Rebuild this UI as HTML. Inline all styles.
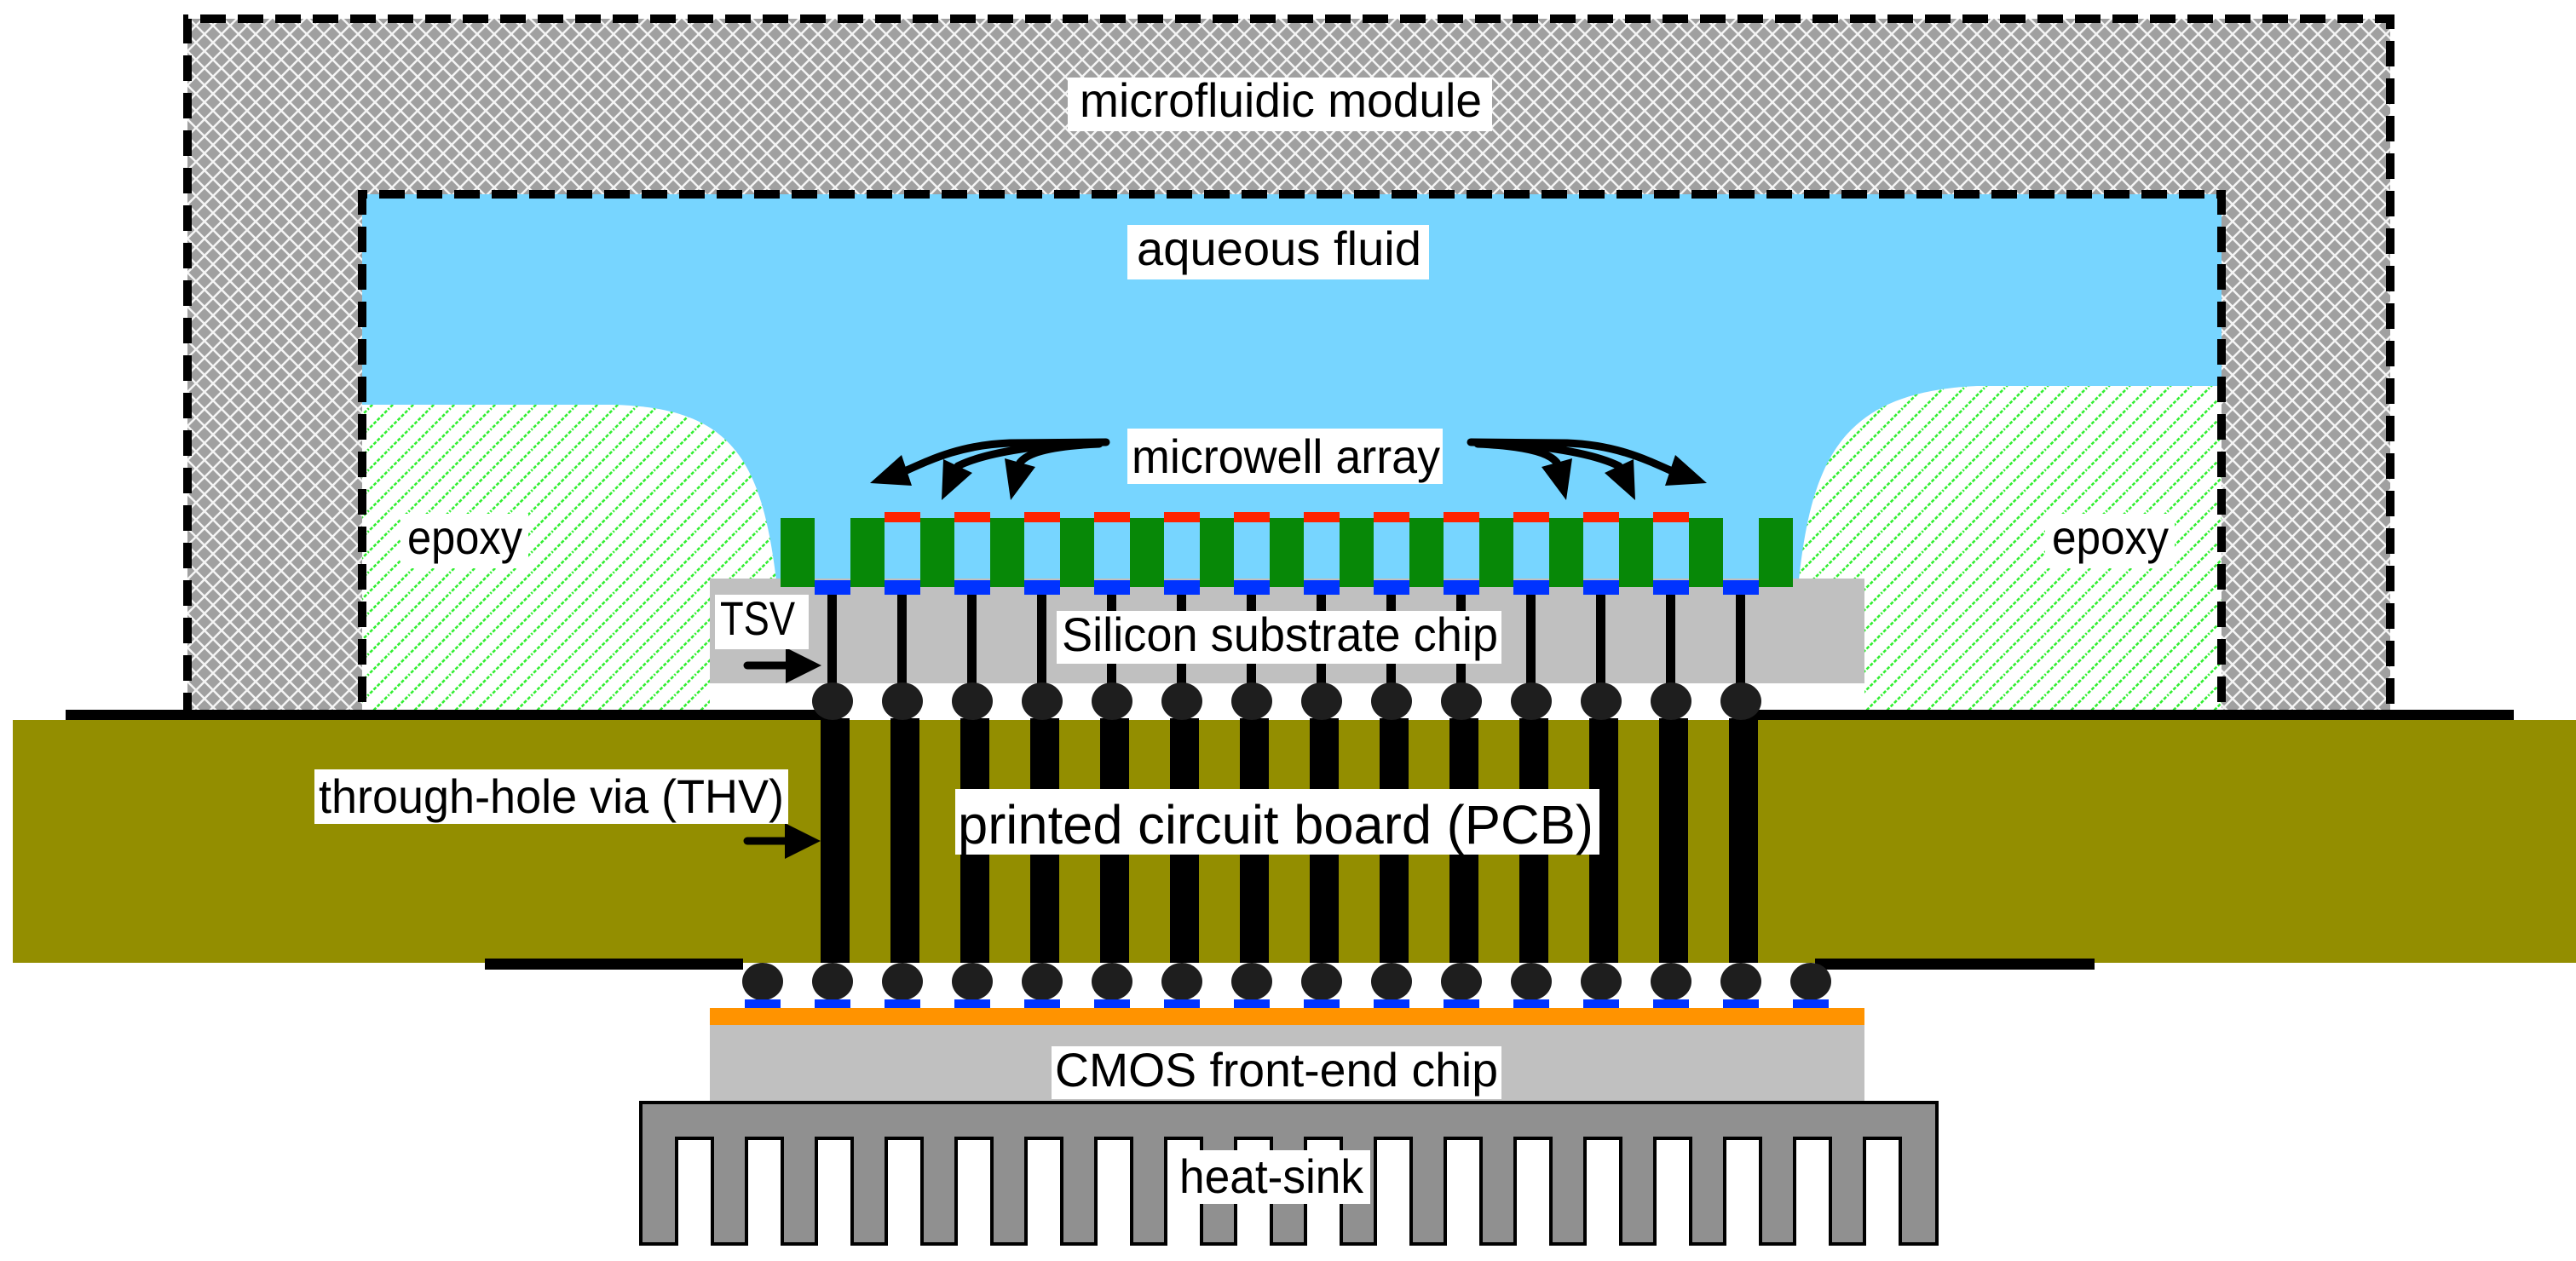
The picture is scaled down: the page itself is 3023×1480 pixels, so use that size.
<!DOCTYPE html>
<html><head><meta charset="utf-8"><style>
html,body{margin:0;padding:0;background:#fff;}
svg{display:block;}
text{font-family:"Liberation Sans",sans-serif;fill:#000;}
</style></head><body>
<svg width="3023" height="1480" viewBox="0 0 3023 1480" xmlns="http://www.w3.org/2000/svg">
<defs>
<pattern id="cross" width="20" height="20" patternUnits="userSpaceOnUse">
<rect width="20" height="20" fill="#a0a0a0"/>
<path d="M0,0 L20,20 M20,0 L0,20" stroke="#f4f4f4" stroke-width="2.5"/>
</pattern>
<pattern id="hatch" width="24" height="24" patternUnits="userSpaceOnUse">
<rect width="24" height="24" fill="#fff"/>
<path d="M-2,26 L26,-2 M-14,14 L14,-14 M10,38 L38,10" stroke="#33ee33" stroke-width="2.6" stroke-dasharray="4,2"/>
</pattern>
</defs>

<!-- fluid -->
<rect x="425" y="228" width="2182" height="480" fill="#77d5ff"/>
<!-- epoxy left -->
<path d="M425,475 L718,475 C860,478 895,540 912,690 L912,843 L425,843 Z" fill="url(#hatch)"/>
<!-- epoxy right -->
<path d="M2607,453 L2320,453 C2160,460 2125,540 2110,690 L2110,843 L2607,843 Z" fill="url(#hatch)"/>
<!-- microfluidic module -->
<path d="M220,22 L2805,22 L2805,843 L2607,843 L2607,228 L425,228 L425,843 L220,843 Z" fill="url(#cross)"/>
<path d="M220,843 L220,22 L2805,22 L2805,843 L2607,843 L2607,228 L425,228 L425,843 Z" fill="none" stroke="#000" stroke-width="10" stroke-dasharray="30,14"/>

<!-- silicon chip -->
<rect x="833" y="679" width="1355" height="123" fill="#c0c0c0"/>
<rect x="833" y="802" width="1355" height="41" fill="#fff"/>
<!-- green walls -->
<g fill="#078807">
<rect x="916" y="608" width="40" height="81"/><rect x="998" y="608" width="40" height="81"/><rect x="1080" y="608" width="40" height="81"/><rect x="1162" y="608" width="40" height="81"/><rect x="1244" y="608" width="40" height="81"/><rect x="1326" y="608" width="40" height="81"/><rect x="1408" y="608" width="40" height="81"/><rect x="1490" y="608" width="40" height="81"/><rect x="1572" y="608" width="40" height="81"/><rect x="1654" y="608" width="40" height="81"/><rect x="1736" y="608" width="40" height="81"/><rect x="1818" y="608" width="40" height="81"/><rect x="1900" y="608" width="40" height="81"/><rect x="1982" y="608" width="40" height="81"/><rect x="2064" y="608" width="40" height="81"/>
</g>
<g fill="#ff2200">
<rect x="1038" y="601" width="42" height="12"/><rect x="1120" y="601" width="42" height="12"/><rect x="1202" y="601" width="42" height="12"/><rect x="1284" y="601" width="42" height="12"/><rect x="1366" y="601" width="42" height="12"/><rect x="1448" y="601" width="42" height="12"/><rect x="1530" y="601" width="42" height="12"/><rect x="1612" y="601" width="42" height="12"/><rect x="1694" y="601" width="42" height="12"/><rect x="1776" y="601" width="42" height="12"/><rect x="1858" y="601" width="42" height="12"/><rect x="1940" y="601" width="42" height="12"/>
</g>
<g fill="#0033ff">
<rect x="956" y="681" width="42" height="17"/><rect x="1038" y="681" width="42" height="17"/><rect x="1120" y="681" width="42" height="17"/><rect x="1202" y="681" width="42" height="17"/><rect x="1284" y="681" width="42" height="17"/><rect x="1366" y="681" width="42" height="17"/><rect x="1448" y="681" width="42" height="17"/><rect x="1530" y="681" width="42" height="17"/><rect x="1612" y="681" width="42" height="17"/><rect x="1694" y="681" width="42" height="17"/><rect x="1776" y="681" width="42" height="17"/><rect x="1858" y="681" width="42" height="17"/><rect x="1940" y="681" width="42" height="17"/><rect x="2022" y="681" width="42" height="17"/>
</g>
<g fill="#000">
<rect x="971" y="698" width="11" height="110"/><rect x="1053" y="698" width="11" height="110"/><rect x="1135" y="698" width="11" height="110"/><rect x="1217" y="698" width="11" height="110"/><rect x="1299" y="698" width="11" height="110"/><rect x="1381" y="698" width="11" height="110"/><rect x="1463" y="698" width="11" height="110"/><rect x="1545" y="698" width="11" height="110"/><rect x="1627" y="698" width="11" height="110"/><rect x="1709" y="698" width="11" height="110"/><rect x="1791" y="698" width="11" height="110"/><rect x="1873" y="698" width="11" height="110"/><rect x="1955" y="698" width="11" height="110"/><rect x="2037" y="698" width="11" height="110"/>
</g>

<!-- PCB -->
<rect x="15" y="845" width="3008" height="285" fill="#938e00"/>
<rect x="77" y="833" width="903" height="12" fill="#000"/>
<rect x="2043" y="833" width="907" height="12" fill="#000"/>
<rect x="569" y="1125" width="303" height="13" fill="#000"/>
<rect x="2130" y="1125" width="328" height="13" fill="#000"/>
<g fill="#000">
<rect x="963" y="843" width="34" height="287"/><rect x="1045" y="843" width="34" height="287"/><rect x="1127" y="843" width="34" height="287"/><rect x="1209" y="843" width="34" height="287"/><rect x="1291" y="843" width="34" height="287"/><rect x="1373" y="843" width="34" height="287"/><rect x="1455" y="843" width="34" height="287"/><rect x="1537" y="843" width="34" height="287"/><rect x="1619" y="843" width="34" height="287"/><rect x="1701" y="843" width="34" height="287"/><rect x="1783" y="843" width="34" height="287"/><rect x="1865" y="843" width="34" height="287"/><rect x="1947" y="843" width="34" height="287"/><rect x="2029" y="843" width="34" height="287"/>
</g>
<g fill="#1e1e1e">
<ellipse cx="977" cy="823" rx="24" ry="22"/><ellipse cx="1059" cy="823" rx="24" ry="22"/><ellipse cx="1141" cy="823" rx="24" ry="22"/><ellipse cx="1223" cy="823" rx="24" ry="22"/><ellipse cx="1305" cy="823" rx="24" ry="22"/><ellipse cx="1387" cy="823" rx="24" ry="22"/><ellipse cx="1469" cy="823" rx="24" ry="22"/><ellipse cx="1551" cy="823" rx="24" ry="22"/><ellipse cx="1633" cy="823" rx="24" ry="22"/><ellipse cx="1715" cy="823" rx="24" ry="22"/><ellipse cx="1797" cy="823" rx="24" ry="22"/><ellipse cx="1879" cy="823" rx="24" ry="22"/><ellipse cx="1961" cy="823" rx="24" ry="22"/><ellipse cx="2043" cy="823" rx="24" ry="22"/>
</g>
<g fill="#1e1e1e">
<ellipse cx="895" cy="1152" rx="24" ry="22"/><ellipse cx="977" cy="1152" rx="24" ry="22"/><ellipse cx="1059" cy="1152" rx="24" ry="22"/><ellipse cx="1141" cy="1152" rx="24" ry="22"/><ellipse cx="1223" cy="1152" rx="24" ry="22"/><ellipse cx="1305" cy="1152" rx="24" ry="22"/><ellipse cx="1387" cy="1152" rx="24" ry="22"/><ellipse cx="1469" cy="1152" rx="24" ry="22"/><ellipse cx="1551" cy="1152" rx="24" ry="22"/><ellipse cx="1633" cy="1152" rx="24" ry="22"/><ellipse cx="1715" cy="1152" rx="24" ry="22"/><ellipse cx="1797" cy="1152" rx="24" ry="22"/><ellipse cx="1879" cy="1152" rx="24" ry="22"/><ellipse cx="1961" cy="1152" rx="24" ry="22"/><ellipse cx="2043" cy="1152" rx="24" ry="22"/><ellipse cx="2125" cy="1152" rx="24" ry="22"/>
</g>
<g fill="#0033ff">
<rect x="874" y="1173" width="42" height="10"/><rect x="956" y="1173" width="42" height="10"/><rect x="1038" y="1173" width="42" height="10"/><rect x="1120" y="1173" width="42" height="10"/><rect x="1202" y="1173" width="42" height="10"/><rect x="1284" y="1173" width="42" height="10"/><rect x="1366" y="1173" width="42" height="10"/><rect x="1448" y="1173" width="42" height="10"/><rect x="1530" y="1173" width="42" height="10"/><rect x="1612" y="1173" width="42" height="10"/><rect x="1694" y="1173" width="42" height="10"/><rect x="1776" y="1173" width="42" height="10"/><rect x="1858" y="1173" width="42" height="10"/><rect x="1940" y="1173" width="42" height="10"/><rect x="2022" y="1173" width="42" height="10"/><rect x="2104" y="1173" width="42" height="10"/>
</g>
<rect x="833" y="1183" width="1355" height="20" fill="#ff9300"/>
<rect x="833" y="1203" width="1355" height="90" fill="#c0c0c0"/>
<!-- heat sink -->
<path d="M752,1294 L2273,1294 L2273,1460 L2230,1460 L2230,1336 L2188,1336 L2188,1460 L2148,1460 L2148,1336 L2106,1336 L2106,1460 L2066,1460 L2066,1336 L2024,1336 L2024,1460 L1984,1460 L1984,1336 L1942,1336 L1942,1460 L1902,1460 L1902,1336 L1860,1336 L1860,1460 L1820,1460 L1820,1336 L1778,1336 L1778,1460 L1738,1460 L1738,1336 L1696,1336 L1696,1460 L1656,1460 L1656,1336 L1614,1336 L1614,1460 L1574,1460 L1574,1336 L1532,1336 L1532,1460 L1492,1460 L1492,1336 L1450,1336 L1450,1460 L1410,1460 L1410,1336 L1368,1336 L1368,1460 L1328,1460 L1328,1336 L1286,1336 L1286,1460 L1246,1460 L1246,1336 L1204,1336 L1204,1460 L1164,1460 L1164,1336 L1122,1336 L1122,1460 L1082,1460 L1082,1336 L1040,1336 L1040,1460 L1000,1460 L1000,1336 L958,1336 L958,1460 L918,1460 L918,1336 L876,1336 L876,1460 L836,1460 L836,1336 L794,1336 L794,1460 L752,1460 Z" fill="#909090" stroke="#000" stroke-width="4"/>

<!-- arrows -->
<g stroke="#000" stroke-width="9" fill="none" stroke-linecap="round">
<path d="M877,781 L926,781"/>
<path d="M877,987 L925,987"/>
<path d="M1298,519 L1185,520 C1130,522 1095,538 1064,552"/>
<path d="M1250,521 C1170,528 1138,540 1124,547"/>
<path d="M1290,521 C1220,524 1203,535 1197,543"/>
<path d="M1726,519 L1839,520 C1894,522 1929,538 1960,552"/>
<path d="M1774,521 C1854,528 1886,540 1900,547"/>
<path d="M1734,521 C1804,524 1821,535 1827,543"/>
</g>
<g fill="#000">
<path d="M964,781 L922,760 L922,802 Z"/>
<path d="M963,987 L921,966 L921,1008 Z"/>
<path d="M1021,567 L1070,570 L1058,534 Z"/>
<path d="M1105,587 L1141,555 L1107,539 Z"/>
<path d="M1186,587 L1215,548 L1179,538 Z"/>
<path d="M2003,567 L1954,570 L1966,534 Z"/>
<path d="M1919,587 L1883,555 L1917,539 Z"/>
<path d="M1838,587 L1809,548 L1845,538 Z"/>
</g>

<!-- labels -->
<g fill="#fff">
<rect x="1253" y="91" width="498" height="63"/>
<rect x="1323" y="264" width="354" height="64"/>
<rect x="1323" y="503" width="370" height="65"/>
<rect x="470" y="603" width="150" height="64"/>
<rect x="2400" y="603" width="152" height="64"/>
<rect x="839" y="698" width="110" height="64"/>
<rect x="1240" y="717" width="522" height="62"/>
<rect x="369" y="903" width="556" height="64"/>
<rect x="1121" y="926" width="756" height="77"/>
<rect x="1234" y="1228" width="528" height="62"/>
<rect x="1378" y="1350" width="230" height="63"/>
</g>
<g font-size="56">
<text x="1267" y="137" textLength="472" lengthAdjust="spacingAndGlyphs">microfluidic module</text>
<text x="1334" y="311" textLength="334" lengthAdjust="spacingAndGlyphs">aqueous fluid</text>
<text x="1328" y="555" textLength="362" lengthAdjust="spacingAndGlyphs">microwell array</text>
<text x="478" y="650" textLength="135" lengthAdjust="spacingAndGlyphs">epoxy</text>
<text x="2408" y="650" textLength="137" lengthAdjust="spacingAndGlyphs">epoxy</text>
<text x="845" y="745" textLength="88" lengthAdjust="spacingAndGlyphs">TSV</text>
<text x="1246" y="764" textLength="512" lengthAdjust="spacingAndGlyphs">Silicon substrate chip</text>
<text x="374" y="954" textLength="546" lengthAdjust="spacingAndGlyphs">through-hole via (THV)</text>
<text x="1124" y="990" font-size="64" textLength="746" lengthAdjust="spacingAndGlyphs">printed circuit board (PCB)</text>
<text x="1238" y="1275" textLength="520" lengthAdjust="spacingAndGlyphs">CMOS front-end chip</text>
<text x="1384" y="1400" textLength="216" lengthAdjust="spacingAndGlyphs">heat-sink</text>
</g>
</svg>
</body></html>
